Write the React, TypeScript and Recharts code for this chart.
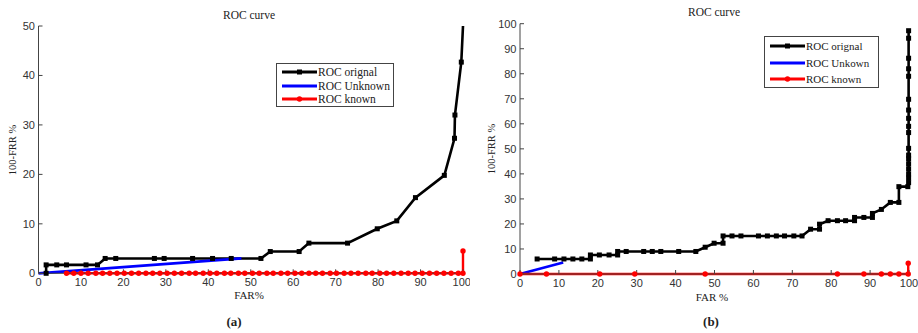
import React from "react";
import { LineChart, Line, XAxis, YAxis } from "recharts";

// FAR %, 100-FRR % pairs
const originalA: [number, number][] = [
  [1.8, 0], [1.8, 1.7], [4.3, 1.7], [6.6, 1.7], [11.2, 1.7], [13.9, 1.7], [15.7, 3], [18.2, 3],
  [27.3, 3], [29.6, 3], [36.3, 3], [41, 3], [45.4, 3], [52.4, 3], [54.6, 4.4], [61.4, 4.4],
  [63.7, 6.1], [72.8, 6.1], [79.8, 9], [84.4, 10.6], [88.8, 15.3], [95.6, 19.8], [98, 27.3],
  [98.1, 32], [99.6, 42.7], [100, 50],
];
const unknownA: [number, number][] = [[0, 0], [47.8, 3]];
const knownA: [number, number][] = [
  [6.6, 0], [8.3, 0], [10, 0], [11.7, 0], [13.5, 0], [15.1, 0], [16.8, 0], [18.5, 0], [20.2, 0],
  [21.9, 0], [23.6, 0], [25.3, 0], [26.9, 0], [28.6, 0], [30.3, 0], [32, 0], [33.7, 0], [35.5, 0],
  [37, 0], [38.8, 0], [40.4, 0], [42, 0], [43.8, 0], [45.3, 0], [47.1, 0], [48.6, 0], [50.4, 0],
  [52, 0], [53.8, 0], [55.3, 0], [57.1, 0], [58.7, 0], [60.4, 0], [62, 0], [63.7, 0], [65.3, 0],
  [66.9, 0], [68.7, 0], [70.2, 0], [72, 0], [73.6, 0], [75.3, 0], [77.1, 0], [78.6, 0], [80.4, 0],
  [82, 0], [83.7, 0], [85.4, 0], [87.1, 0], [88.7, 0], [90.4, 0], [92.1, 0], [93.8, 0], [95.5, 0],
  [97.2, 0], [98.9, 0], [100, 0], [100, 4.5],
];

const originalB: [number, number][] = [
  [4.4, 6], [8.9, 6], [11.3, 6], [13.6, 6], [15.9, 6], [18.1, 6], [18.1, 7.6], [20.4, 7.6],
  [22.9, 7.6], [25.1, 7.6], [25.1, 9], [27.3, 9], [31.8, 9], [34, 9], [36.2, 9], [40.8, 9],
  [45.2, 9], [47.6, 10.7], [49.9, 12.3], [52.2, 12.3], [52.2, 15.2], [54.5, 15.2], [56.8, 15.2],
  [61.3, 15.2], [63.6, 15.2], [65.9, 15.2], [68, 15.2], [70.4, 15.2], [72.5, 15.2], [74.7, 17.9],
  [77, 17.9], [77, 19.9], [79.2, 21.3], [81.6, 21.3], [83.7, 21.3], [86, 21.3], [86, 22.6],
  [88.4, 22.6], [90.6, 22.6], [90.6, 24.2], [92.9, 25.8], [95.2, 28.6], [97.4, 28.6], [97.4, 34.9],
  [99.7, 34.9], [99.9, 36.5], [99.9, 38.3], [99.9, 40], [99.9, 42], [99.9, 44], [99.9, 46],
  [99.9, 47.5], [99.9, 50.2], [99.9, 56.5], [99.9, 59], [99.9, 62.2], [99.9, 65.5], [99.9, 69.8],
  [99.9, 79], [99.9, 82], [99.9, 86.2], [99.9, 94.2], [99.9, 97.2],
];
const unknownB: [number, number][] = [[0, 0], [11.1, 4.6]];
const knownB: [number, number][] = [
  [0, 0], [6.8, 0], [20.5, 0], [29.5, 0], [47.6, 0], [81.6, 0], [88.4, 0], [92.9, 0], [95.2, 0],
  [97.4, 0], [99.8, 0], [99.8, 4.3],
];

const xTicks = [0, 10, 20, 30, 40, 50, 60, 70, 80, 90, 100];
const yTicksA = [0, 10, 20, 30, 40, 50];
const yTicksB = [0, 10, 20, 30, 40, 50, 60, 70, 80, 90, 100];
const legendA = ["ROC orignal", "ROC Unknown", "ROC known"];
const legendB = ["ROC orignal", "ROC Unkown", "ROC known"];

const toRows = (pts: [number, number][]) => pts.map(([x, y]) => ({ x, y }));

const AXIS = "#444";
const SERIF = "'Liberation Serif', 'Times New Roman', serif";
const tickStyle = { fontSize: 11, fill: "#333", fontFamily: "'Liberation Sans', Arial, sans-serif" };

// the curve in (a) runs off the top of the axes, so no marker where it is cut
const squareDot = (yMax: number) => (p: any) =>
  p.payload.y >= yMax ? (
    <g key={`s${p.index}`} />
  ) : (
    <rect key={`s${p.index}`} x={p.cx - 2.5} y={p.cy - 2.5} width={5} height={5} fill="#000" />
  );
const circleDot = (p: any) => <circle key={`c${p.index}`} cx={p.cx} cy={p.cy} r={2.7} fill="#f00" />;

function Panel({ left, width, margin, yMax, yTicks, original, unknown, known }: any) {
  return (
    <div style={{ position: "absolute", left, top: 0 }}>
      <LineChart width={width} height={333} margin={margin}>
        <XAxis
          xAxisId="b" type="number" dataKey="x" domain={[0, 100]} ticks={xTicks} height={30}
          stroke={AXIS} tickSize={-4} tickMargin={9} tick={tickStyle}
        />
        <XAxis
          xAxisId="t" orientation="top" type="number" dataKey="x" domain={[0, 100]} ticks={xTicks}
          height={0} stroke={AXIS} tickSize={-4} tickFormatter={() => ""}
        />
        <YAxis
          yAxisId="l" type="number" domain={[0, yMax]} ticks={yTicks} width={30} stroke={AXIS}
          tickSize={-4} tickMargin={7.5} tick={tickStyle}
        />
        <YAxis
          yAxisId="r" orientation="right" type="number" domain={[0, yMax]} ticks={yTicks} width={0}
          stroke={AXIS} tickSize={-4} tickFormatter={() => ""}
        />
        <Line xAxisId="b" yAxisId="l" data={toRows(original)} dataKey="y" stroke="#000" strokeWidth={2.6}
          dot={squareDot(yMax)} activeDot={false} isAnimationActive={false} />
        <Line xAxisId="b" yAxisId="l" data={toRows(unknown)} dataKey="y" stroke="#0000ff" strokeWidth={2.8}
          dot={false} activeDot={false} isAnimationActive={false} />
        <Line xAxisId="b" yAxisId="l" data={toRows(known)} dataKey="y" stroke="#ff0000" strokeWidth={2.4}
          dot={circleDot} activeDot={false} isAnimationActive={false} />
      </LineChart>
    </div>
  );
}

function Legend({ left, top, width, height, rows, labels, fontSize }: any) {
  const colors = ["#000", "#0000ff", "#ff0000"];
  return (
    <div style={{ position: "absolute", left, top, width, height, border: `1px solid ${AXIS}`,
      background: "#fff", boxSizing: "border-box", fontFamily: SERIF, fontSize, color: "#222" }}>
      {labels.map((label: string, i: number) => (
        <div key={label} style={{ position: "absolute", left: 0, top: rows[i] - 8, height: 16, width: "100%" }}>
          <svg width={40} height={16} style={{ position: "absolute", left: 5, top: 0 }}>
            <line x1={0} y1={8} x2={35} y2={8} stroke={colors[i]} strokeWidth={2.8} />
            {i === 0 && <rect x={15} y={5.5} width={5} height={5} fill="#000" />}
            {i === 2 && <circle cx={17.5} cy={8} r={2.7} fill="#f00" />}
          </svg>
          <span style={{ position: "absolute", left: 41, top: 0, lineHeight: "16px", whiteSpace: "nowrap" }}>
            {label}
          </span>
        </div>
      ))}
    </div>
  );
}

function Text({ x, y, size, rotate, bold, children }: any) {
  return (
    <div style={{ position: "absolute", left: x, top: y, fontFamily: SERIF, fontSize: size, color: "#222",
      whiteSpace: "nowrap", fontWeight: bold ? 700 : 400,
      transform: `translate(-50%, -50%)${rotate ? " rotate(-90deg)" : ""}` }}>
      {children}
    </div>
  );
}

export default function App() {
  return (
    <div style={{ position: "absolute", left: 0, top: 0, width: 918, height: 333, background: "#fff", overflow: "hidden" }}>
      <Panel left={0} width={470} margin={{ top: 26, right: 7, bottom: 29.7, left: 8.5 }} yMax={50}
        yTicks={yTicksA} original={originalA} unknown={unknownA} known={knownA} />
      <Panel left={478} width={440} margin={{ top: 23.7, right: 9, bottom: 29, left: 12 }} yMax={100}
        yTicks={yTicksB} original={originalB} unknown={unknownB} known={knownB} />
      <Legend left={276} top={63} width={118} height={44} rows={[8, 22, 35]} labels={legendA} fontSize={11.5} />
      <Legend left={764} top={36} width={115} height={52} rows={[9, 26, 42]} labels={legendB} fontSize={11} />
      <Text x={249} y={15} size={11.5}>ROC curve</Text>
      <Text x={714} y={12} size={11.5}>ROC curve</Text>
      <Text x={249} y={295} size={11}>FAR%</Text>
      <Text x={712} y={297} size={11}>FAR %</Text>
      <Text x={12} y={150} size={10.5} rotate>100-FRR %</Text>
      <Text x={491} y={149} size={10.5} rotate>100-FRR %</Text>
      <Text x={234} y={322} size={13} bold>(a)</Text>
      <Text x={711} y={322} size={13} bold>(b)</Text>
    </div>
  );
}
